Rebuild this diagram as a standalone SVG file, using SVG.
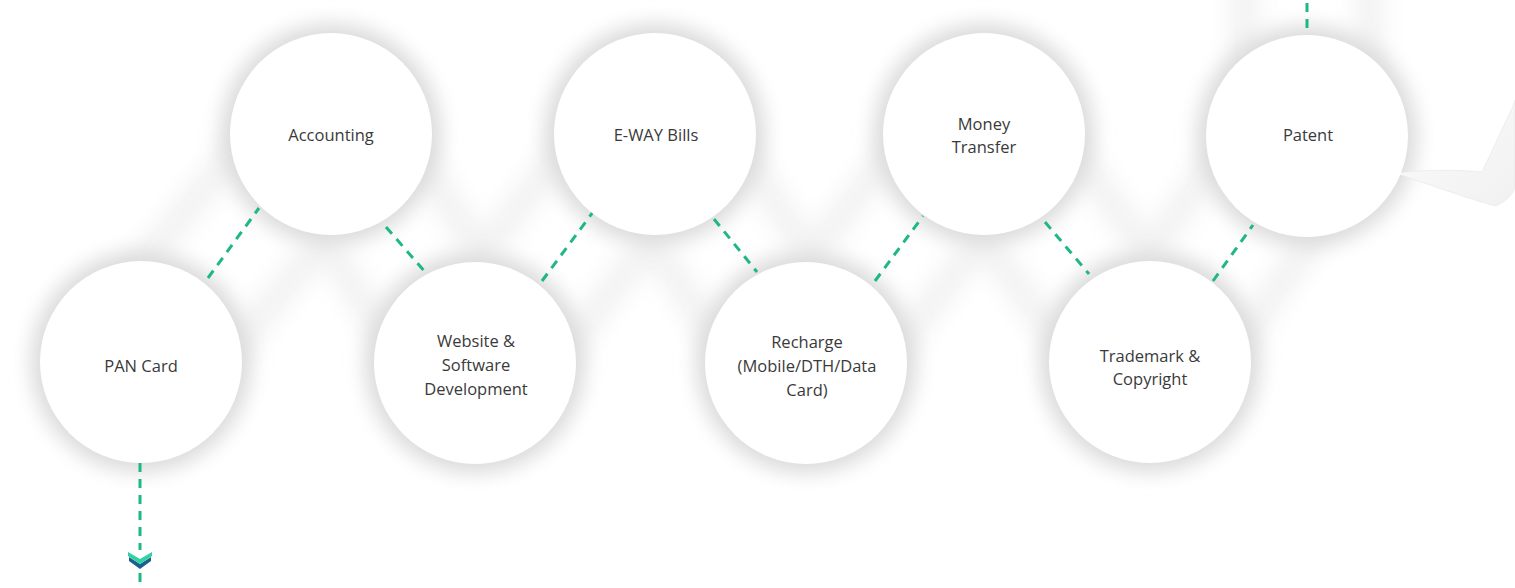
<svg xmlns="http://www.w3.org/2000/svg" width="1515" height="588" viewBox="0 0 1515 588">
<style>
.lbl{font-family:"Open Sans","Liberation Sans",sans-serif;font-size:16.5px;fill:#3a3a3a;text-anchor:middle}
.dash{fill:none;stroke:#1fb883;stroke-width:3;stroke-dasharray:9 7}
.node{fill:#ffffff}
.halo{fill:#dadada}
</style>
<defs>
<filter id="blurL" x="-30%" y="-30%" width="160%" height="160%"><feGaussianBlur stdDeviation="10"/></filter>
<filter id="blurM" x="-30%" y="-30%" width="160%" height="160%"><feGaussianBlur stdDeviation="12"/></filter>
<linearGradient id="curl" x1="0" y1="0" x2="1" y2="1">
<stop offset="0" stop-color="#fbfbfb"/><stop offset="1" stop-color="#f1f1f1"/>
</linearGradient>
</defs>
<rect width="1515" height="588" fill="#ffffff"/>
<g id="background">
<polyline points="1307,-60 1307,136 1150,362 984,134 806,363 655,134 475,363 331,134 141,362" fill="none" stroke="#f1f1f1" stroke-width="150" stroke-linejoin="round" filter="url(#blurM)"/>
<polyline points="1307,-60 1307,136 1150,362 984,134 806,363 655,134 475,363 331,134 141,362" fill="none" stroke="#ffffff" stroke-width="100" stroke-linejoin="round" filter="url(#blurM)"/>
<g filter="url(#blurL)">
<circle class="halo" cx="141" cy="362" r="110"/>
<circle class="halo" cx="331" cy="134" r="110"/>
<circle class="halo" cx="475" cy="363" r="110"/>
<circle class="halo" cx="655" cy="134" r="110"/>
<circle class="halo" cx="806" cy="363" r="110"/>
<circle class="halo" cx="984" cy="134" r="110"/>
<circle class="halo" cx="1150" cy="362" r="110"/>
<circle class="halo" cx="1307" cy="136" r="110"/>
</g>
<path d="M1395,173 C1430,169 1462,170 1482,172 L1513,106 L1515,100 L1515,188 C1511,197 1504,203 1495,206 C1470,199 1430,185 1395,173 Z" fill="url(#curl)" stroke="#e8e8e8" stroke-width="0.7"/>
</g>
<g id="connectors">
<line class="dash" x1="208" y1="278" x2="259" y2="208"/>
<line class="dash" x1="386" y1="227" x2="426" y2="273"/>
<line class="dash" x1="542" y1="281" x2="593" y2="212"/>
<line class="dash" x1="714" y1="219" x2="757" y2="272"/>
<line class="dash" x1="875" y1="281" x2="923" y2="216"/>
<line class="dash" x1="1045" y1="222" x2="1089" y2="274"/>
<line class="dash" x1="1213" y1="281" x2="1253" y2="225"/>
<line class="dash" x1="1307" y1="3" x2="1307" y2="35"/>
<line class="dash" x1="140" y1="463" x2="140" y2="550"/>
<line class="dash" x1="140" y1="573" x2="140" y2="588" stroke-dasharray="none"/>
<polygon points="129,557 140,564 151,557 151,561 140,569 129,561" fill="#1b5f8c"/>
<polygon points="128,552 140,559 152,552 152,556 140,564 128,556" fill="#2fd3a0"/>
</g>
<g id="pan-card"><circle class="node" cx="141" cy="362" r="101"/><text class="lbl" x="141" y="372">PAN Card</text></g>
<g id="accounting"><circle class="node" cx="331" cy="134" r="101"/><text class="lbl" x="331" y="141">Accounting</text></g>
<g id="website"><circle class="node" cx="475" cy="363" r="101"/><text class="lbl" x="476" y="347">Website &amp;</text><text class="lbl" x="476" y="371">Software</text><text class="lbl" x="476" y="395">Development</text></g>
<g id="eway"><circle class="node" cx="655" cy="134" r="101"/><text class="lbl" x="656" y="141">E-WAY Bills</text></g>
<g id="recharge"><circle class="node" cx="806" cy="363" r="101"/><text class="lbl" x="807" y="348">Recharge</text><text class="lbl" x="807" y="372">(Mobile/DTH/Data</text><text class="lbl" x="807" y="396">Card)</text></g>
<g id="money"><circle class="node" cx="984" cy="134" r="101"/><text class="lbl" x="984" y="130">Money</text><text class="lbl" x="984" y="153">Transfer</text></g>
<g id="trademark"><circle class="node" cx="1150" cy="362" r="101"/><text class="lbl" x="1150" y="362">Trademark &amp;</text><text class="lbl" x="1150" y="385">Copyright</text></g>
<g id="patent"><circle class="node" cx="1307" cy="136" r="101"/><text class="lbl" x="1308" y="141">Patent</text></g>
</svg>
